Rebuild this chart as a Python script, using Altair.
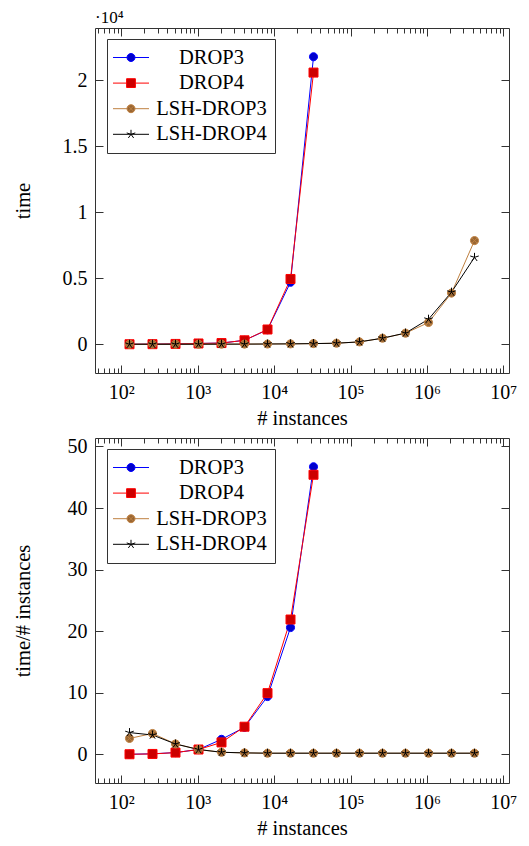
import altair as alt
import pandas as pd

FONT = "Liberation Serif"

# ---------------- data ----------------
n_all = [128, 256, 512, 1024, 2048, 4096, 8192, 16384, 32768,
         65536, 131072, 262144, 524288, 1048576, 2097152, 4194304]
n_drop = n_all[:9]

series = ["DROP3", "DROP4", "LSH-DROP3", "LSH-DROP4"]

time_drop3 = [2, 8, 25, 60, 90, 300, 1100, 4700, 21800]
time_drop4 = [2, 8, 25, 60, 90, 300, 1120, 4950, 20600]
time_lsh3 = [1, 2, 3, 5, 8, 12, 20, 30, 50, 80, 180, 460, 840, 1650, 3880, 7860]
time_lsh4 = [1, 2, 3, 5, 8, 12, 20, 30, 50, 80, 180, 460, 850, 1900, 3950, 6590]

per_drop3 = [0.03, 0.1, 0.3, 0.8, 2.45, 4.4, 9.4, 20.6, 46.7]
per_drop4 = [0.03, 0.08, 0.3, 0.8, 1.95, 4.5, 9.95, 21.9, 45.4]
per_lsh3 = [2.6, 3.4, 1.7, 0.8, 0.35, 0.25, 0.2, 0.2, 0.2, 0.2, 0.2, 0.2, 0.2, 0.2, 0.2, 0.2]
per_lsh4 = [3.55, 3.15, 1.7, 0.8, 0.35, 0.25, 0.2, 0.2, 0.2, 0.2, 0.2, 0.2, 0.2, 0.2, 0.2, 0.2]

x_major = [100, 1000, 10000, 100000, 1000000, 10000000]
x_minor = [k * 10 ** e for e in range(1, 7) for k in range(2, 10)]
y_top_ticks = [0, 5000, 10000, 15000, 20000]
y_bot_ticks = [0, 10, 20, 30, 40, 50]

line_colors = ["#0000ff", "#ff0000", "#bf8040", "#000000"]
fill_colors = ["#0000cc", "#cc0000", "#996633", "#000000"]

CIRC = "M0.9,0A0.9,0.9 0 1,1 -0.9,0A0.9,0.9 0 1,1 0.9,0Z"
STAR = "M0,0L0,-1M0,0L0.951,-0.309M0,0L0.588,0.809M0,0L-0.588,0.809M0,0L-0.951,-0.309"
marker_paths = [
    CIRC,
    "M-1,-1H1V1H-1Z",
    CIRC + "M-0.636,-0.636L0.636,0.636M-0.636,0.636L0.636,-0.636",
    STAR,
]
# legend symbols (drawn at 10 px per path unit): short line with the marker in the middle
LCIRC = "M0.4,0A0.4,0.4 0 1,1 -0.4,0A0.4,0.4 0 1,1 0.4,0Z"
LSTAR = "M0,0L0,-0.45M0,0L0.428,-0.139M0,0L0.265,0.364M0,0L-0.265,0.364M0,0L-0.428,-0.139"
legend_paths = [
    "M-1.8,0H-0.4M0.4,0H1.8" + LCIRC,
    "M-1.8,0H-0.44M0.44,0H1.8M-0.44,-0.44H0.44V0.44H-0.44Z",
    "M-1.8,0H-0.4M0.4,0H1.8" + LCIRC + "M-0.283,-0.283L0.283,0.283M-0.283,0.283L0.283,-0.283",
    "M-1.8,0H1.8" + LSTAR,
]


def long_df(groups):
    rows = []
    for s, xs, vs in groups:
        for x, v in zip(xs, vs):
            rows.append({"series": s, "n": x, "v": v})
    return pd.DataFrame(rows)


df_top = long_df([("DROP3", n_drop, time_drop3), ("DROP4", n_drop, time_drop4),
                  ("LSH-DROP3", n_all, time_lsh3), ("LSH-DROP4", n_all, time_lsh4)])
df_bot = long_df([("DROP3", n_drop, per_drop3), ("DROP4", n_drop, per_drop4),
                  ("LSH-DROP3", n_all, per_lsh3), ("LSH-DROP4", n_all, per_lsh4)])

W, H = 414, 345
TC = "#333333"

lx0, lx1 = 2.107210, 6.622656  # log10 of 128 and 4194304
pad = 0.1 * (lx1 - lx0)
xdom = [10 ** (lx0 - pad), 10 ** (lx1 + pad)]


def ydom_of(vals):
    lo, hi = min(vals), max(vals)
    r = hi - lo
    return [lo - 0.1 * r, hi + 0.1 * r]


X_LABEL_EXPR = ("'10' + ['\u2070','\u00b9','\u00b2','\u00b3','\u2074','\u2075','\u2076','\u2077']"
                "[round(log(datum.value)/LN10)]")


def tick_axis(orient, offset, values, size):
    return alt.Axis(orient=orient, offset=offset, values=values, labels=False,
                    ticks=True, tickSize=size, tickColor=TC, tickWidth=1,
                    domain=False, grid=False, title=None)


def panel(df, yvals, ylabel_expr, ytitle, title=None):
    ydom = ydom_of(list(df["v"]))
    xs = alt.Scale(type="log", domain=xdom, nice=False)
    ys = alt.Scale(domain=ydom, nice=False, zero=False)

    def X(axis):
        return alt.X("n:Q", scale=xs, axis=axis)

    def Y(axis):
        return alt.Y("v:Q", scale=ys, axis=axis)

    ax_x_labels = alt.Axis(orient="bottom", values=x_major, labelExpr=X_LABEL_EXPR,
                           ticks=False, tickSize=0, domain=False, grid=False,
                           labelPadding=9, labelFontSize=20, labelFont=FONT,
                           labelColor="black", title="# instances", titleFontSize=20.5,
                           titleFont=FONT, titleFontWeight="normal", titleColor="black",
                           titleBaseline="alphabetic", titleY=51)
    ax_y_labels = alt.Axis(orient="left", values=yvals, labelExpr=ylabel_expr,
                           ticks=False, tickSize=0, domain=False, grid=False,
                           labelPadding=8, labelFontSize=20, labelFont=FONT,
                           labelColor="black", title=ytitle, titleFontSize=20.5,
                           titleFont=FONT, titleFontWeight="normal", titleColor="black",
                           titleBaseline="alphabetic", titleX=-65.5, titleY=H / 2)

    leg = alt.Legend(orient="none", legendX=12, legendY=11, title=None,
                     symbolSize=400, symbolStrokeWidth=1, symbolOffset=5.5,
                     labelFont=FONT, labelFontSize=20.5, labelColor="black",
                     labelAlign="center", labelOffset=70, rowPadding=4.6,
                     padding=8, strokeColor=TC, fillColor="white")

    base = alt.Chart(df)

    lines = base.mark_line(strokeWidth=1).encode(
        x=X(ax_x_labels), y=Y(ax_y_labels),
        color=alt.Color("series:N", scale=alt.Scale(domain=series, range=line_colors),
                        legend=None),
    )
    points = base.mark_point(filled=True, size=81, strokeWidth=1, opacity=1).encode(
        x=X(tick_axis("top", -H, x_major, 8)),
        y=Y(tick_axis("right", -W, yvals, 8)),
        fill=alt.Fill("series:N", scale=alt.Scale(domain=series, range=fill_colors), legend=None),
        stroke=alt.Stroke("series:N", scale=alt.Scale(domain=series, range=line_colors), legend=None),
        shape=alt.Shape("series:N", scale=alt.Scale(domain=series, range=marker_paths), legend=None),
    )
    legend_layer = base.transform_filter("false").transform_calculate(
        lg="datum.series"
    ).mark_point(filled=True, size=400, strokeWidth=1, opacity=1).encode(
        x=X(tick_axis("top", -H, x_minor, 5)),
        y=Y(tick_axis("left", -W, yvals, 8)),
        fill=alt.Fill("lg:N", scale=alt.Scale(domain=series, range=fill_colors), legend=leg),
        stroke=alt.Stroke("lg:N", scale=alt.Scale(domain=series, range=line_colors), legend=leg),
        shape=alt.Shape("lg:N", scale=alt.Scale(domain=series, range=legend_paths), legend=leg),
    )
    inv2 = base.mark_point(opacity=0).encode(
        x=X(tick_axis("bottom", -H, x_major, 8)),
        y=Y(None),
    )
    inv3 = base.mark_point(opacity=0).encode(
        x=X(tick_axis("bottom", -H, x_minor, 5)),
        y=Y(None),
    )
    ch = alt.layer(lines, points, legend_layer, inv2, inv3).resolve_axis(
        x="independent", y="independent"
    ).resolve_scale(fill="independent", stroke="independent", shape="independent")
    props = dict(width=W, height=H)
    if title is not None:
        props["title"] = alt.TitleParams(text=title, anchor="start", frame="group",
                                         fontSize=17, font=FONT, fontWeight="normal",
                                         color="black", offset=1)
    return ch.properties(**props)


top = panel(df_top, y_top_ticks, "toString(datum.value/10000)", "time", title="\u00b710\u2074")
bot = panel(df_bot, y_bot_ticks, "toString(datum.value)", "time/# instances")

chart = alt.vconcat(top, bot, spacing=6).resolve_scale(
    color="independent", fill="independent", stroke="independent", shape="independent"
).resolve_legend(
    color="independent", fill="independent", stroke="independent", shape="independent"
).properties(
    padding={"left": 5, "top": 0, "right": 0, "bottom": 0}
).configure(font=FONT).configure_view(stroke=TC, strokeWidth=1)

chart.save("out.html", embed_options={"renderer": "svg", "actions": False})
